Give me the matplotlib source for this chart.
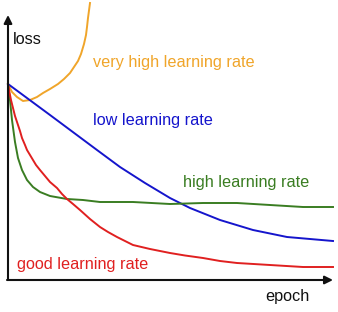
import matplotlib
matplotlib.use('Agg')
import matplotlib.pyplot as plt

plt.rcParams['font.family'] = ['Liberation Sans', 'DejaVu Sans']

# curves (epoch, loss in arbitrary units)
very_high_epoch = [0, 4, 9, 15, 22, 29, 35, 42, 50, 56, 62, 66, 70, 73, 76, 78, 79, 80, 82]
very_high_loss = [196, 188, 183, 179, 180, 183, 187, 191, 196, 201, 207, 213, 219, 226, 236, 245, 253, 262, 277]

low_epoch = [0, 42, 89, 112, 137, 162, 182, 212, 245, 279, 325]
low_loss = [196, 165, 130, 113, 97, 82, 72, 60, 50, 43, 39]

high_epoch = [0, 2, 4, 7, 10, 14, 19, 25, 32, 42, 59, 75, 92, 125, 162, 195, 229, 262, 295, 325]
high_loss = [196, 180, 160, 138, 122, 110, 100, 93, 88, 84, 81, 80, 78, 78, 76, 77, 77, 75, 73, 73]

good_epoch = [0, 1, 3, 5, 7, 9, 12, 14, 17, 19, 22, 25, 28, 32, 37, 42, 49, 54, 59, 65, 72, 82,
              92, 100, 109, 117, 125, 142, 162, 177, 195, 212, 229, 262, 295, 325]
good_loss = [196, 190, 180, 172, 164, 158, 149, 142, 135, 130, 125, 120, 115, 110, 104, 98, 92, 86,
             81, 76, 70, 61, 53, 48, 43, 39, 35, 31, 27, 24.5, 22, 19, 17, 15, 13, 13]

COLORS = {
    'very_high': '#F0A52A',
    'low': '#1515CC',
    'high': '#3A7D22',
    'good': '#E02020',
}

fig = plt.figure(figsize=(3.38, 3.12), dpi=100)
ax = fig.add_axes([0, 0, 1, 1])
ax.set_xlim(-8, 330)
ax.set_ylim(-32, 280)
ax.axis('off')

lw = 1.4
ax.plot(very_high_epoch, very_high_loss, color=COLORS['very_high'], lw=lw)
ax.plot(low_epoch, low_loss, color=COLORS['low'], lw=lw)
ax.plot(high_epoch, high_loss, color=COLORS['high'], lw=lw)
ax.plot(good_epoch, good_loss, color=COLORS['good'], lw=lw)

# axes arrows
arrow = dict(arrowstyle='-|>', color='#111111', lw=1.5, mutation_scale=12,
             shrinkA=0, shrinkB=0)
ax.annotate('', xy=(0, 265), xytext=(0, 0), arrowprops=arrow)
ax.annotate('', xy=(325, 0), xytext=(-1, 0), arrowprops=arrow)

fs = 11.7
ax.text(5, 240, 'loss', fontsize=fs, color='#111111', va='center')
ax.text(257, -17, 'epoch', fontsize=fs, color='#111111', va='center')
ax.text(85, 218, 'very high learning rate', fontsize=fs, color=COLORS['very_high'], va='center')
ax.text(85, 160, 'low learning rate', fontsize=fs, color=COLORS['low'], va='center')
ax.text(175, 97, 'high learning rate', fontsize=fs, color=COLORS['high'], va='center')
ax.text(9, 15, 'good learning rate', fontsize=fs, color=COLORS['good'], va='center')

fig.savefig('out.png', dpi=100)
